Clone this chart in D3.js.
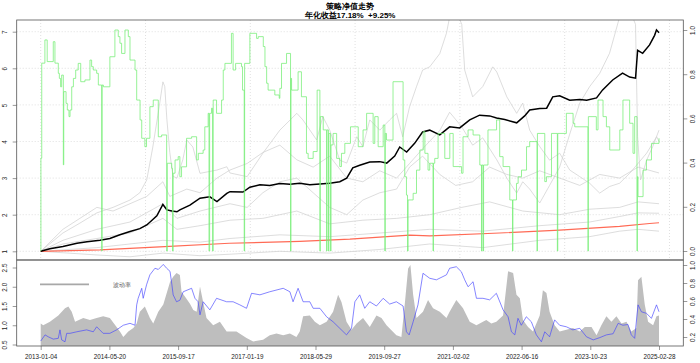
<!DOCTYPE html>
<html>
<head>
<meta charset="utf-8">
<script src="https://cdn.jsdelivr.net/npm/d3@7"></script>
<style>
  body { margin: 0; background: #fff; }
  svg { display: block; }
  text { font-family: "Liberation Sans", Arial, sans-serif; }
</style>
</head>
<body>
<svg id="chart" width="700" height="363"></svg>
<script>
// ---- data (trading-day index, value) ----
const title1 = "策略净值走势";
const title2 = "年化收益17.18%  +9.25%";
const nDays = 2950;
const dateTicks = ["2013-01-04", "2014-05-20", "2015-09-17", "2017-01-19", "2018-05-29",
                   "2019-09-27", "2021-02-02", "2022-06-16", "2023-10-23", "2025-02-28"];
const navTicks = [1, 2, 3, 4, 5, 6, 7];
const posTicks = [0, 0.2, 0.4, 0.6, 0.8, 1.0];
const volTicks = [0.5, 1.0, 1.5, 2.0, 2.5];
const areaTicks = [0.2, 0.4, 0.6, 0.8, 1.0];
const gridDays = [0, 500, 1000, 1500, 2000, 2500, 3000];

// strategy net value
const strategyNav = [[0,1.00],[44,1.07],[106,1.13],[173,1.22],[221,1.26],[283,1.30],[330,1.35],[378,1.45],
  [426,1.54],[473,1.62],[506,1.72],[531,1.85],[554,1.97],[583,2.28],[602,2.13],[626,2.10],[650,2.08],
  [664,2.13],[712,2.26],[760,2.45],[807,2.49],[841,2.36],[888,2.58],[903,2.63],[965,2.62],[998,2.75],
  [1046,2.82],[1093,2.80],[1141,2.85],[1189,2.83],[1236,2.86],[1284,2.82],[1332,2.84],[1379,2.86],
  [1427,2.90],[1460,3.00],[1489,3.28],[1522,3.35],[1570,3.44],[1618,3.45],[1651,3.41],[1689,3.60],
  [1713,3.85],[1746,3.71],[1784,3.95],[1822,4.26],[1856,4.31],[1904,4.18],[1951,4.40],[1999,4.37],
  [2047,4.59],[2094,4.72],[2142,4.70],[2175,4.64],[2214,4.60],[2271,4.51],[2309,4.70],[2333,4.86],
  [2381,4.90],[2414,4.91],[2443,5.22],[2476,5.25],[2524,5.13],[2572,5.15],[2605,5.13],[2652,5.19],
  [2681,5.41],[2729,5.68],[2776,5.87],[2810,5.76],[2838,5.73],[2848,6.49],[2872,6.41],[2905,6.64],
  [2929,6.90],[2938,7.05],[2950,6.97]];

// benchmark
const benchNav = [[0,1.00],[283,1.04],[568,1.12],[900,1.22],[1236,1.27],[1475,1.33],[1760,1.44],
  [1856,1.42],[2190,1.50],[2476,1.58],[2762,1.68],[2905,1.76],[2950,1.78]];

// single stock paths
const stockA = [[0,1.0],[106,1.5],[187,1.77],[268,2.05],[345,2.2],[426,2.4],[473,2.6],[506,2.95],
  [535,3.85],[568,5.05],[583,5.63],[592,5.5],[602,4.6],[616,3.7],[631,3.05],[650,3.0],[678,3.5],
  [697,4.04],[726,3.85],[760,3.13],[841,3.22],[888,3.31],[903,3.14],[985,3.04],[1060,3.68],
  [1141,4.31],[1222,4.77],[1251,4.59],[1317,4.04],[1346,4.68],[1379,4.31],[1427,3.49],[1460,3.41],
  [1508,4.13],[1537,3.86],[1570,4.59],[1618,4.31],[1665,4.59],[1698,4.77],[1727,4.13],[1760,4.95],
  [1793,5.5],[1822,5.95],[1856,6.04],[1904,6.4],[1936,6.96],[1951,7.4],[1980,7.6],[2009,7.2],
  [2023,5.95],[2061,5.22],[2109,5.5],[2157,6.04],[2176,5.9],[2224,5.22],[2271,4.77],[2300,5.05],
  [2333,4.31],[2381,3.86],[2428,3.49],[2476,3.68],[2524,3.22],[2572,3.04],[2619,2.86],[2667,2.59],
  [2714,2.77],[2762,2.86],[2810,3.13],[2891,3.68],[2939,4.13],[2950,4.0]];
const stockB = [[0,1.0],[106,1.6],[187,1.9],[268,2.2],[345,2.1],[426,2.3],[506,2.5],[583,2.9],
  [616,2.5],[697,2.7],[760,2.6],[841,3.0],[903,3.22],[985,3.4],[1060,3.7],[1141,3.9],[1222,3.5],
  [1300,3.3],[1379,3.6],[1460,3.0],[1537,2.9],[1618,3.2],[1698,3.0],[1760,3.4],[1822,3.8],
  [1904,4.3],[1951,4.8],[2009,4.4],[2061,3.9],[2109,4.1],[2176,3.5],[2224,3.0],[2271,2.59],
  [2300,2.9],[2333,2.7],[2381,2.32],[2428,2.8],[2476,3.3],[2524,4.2],[2572,5.05],[2619,5.5],
  [2667,5.86],[2714,6.41],[2762,7.4],[2810,7.6],[2838,7.2],[2848,4.13],[2862,2.95],[2891,3.49],
  [2920,3.86],[2950,4.31]];
const stockC = [[0,1.0],[106,1.3],[268,1.6],[426,1.8],[583,2.3],[650,1.9],[760,2.1],[903,2.3],
  [985,2.2],[1060,2.6],[1141,2.9],[1222,3.0],[1300,2.6],[1379,2.2],[1460,2.0],[1537,2.4],
  [1618,2.6],[1698,2.7],[1760,3.3],[1822,3.6],[1904,3.1],[1980,2.8],[2061,2.9],[2142,3.3],
  [2224,3.1],[2300,3.0],[2381,3.2],[2476,3.0],[2572,2.8],[2667,3.1],[2762,3.0],[2850,3.3],[2950,3.14]];
const stockD = [[0,1.0],[106,1.2],[268,1.35],[426,1.5],[583,1.9],[650,1.6],[760,1.7],[903,1.85],
  [1060,1.9],[1222,2.1],[1379,1.75],[1537,1.85],[1698,1.9],[1856,2.0],[2009,2.2],[2142,2.35],
  [2300,2.1],[2476,2.0],[2619,2.15],[2762,2.2],[2850,2.35],[2950,2.3]];
const stockE = [[0,1.0],[268,1.1],[583,1.3],[760,1.25],[903,1.35],[1141,1.45],[1379,1.4],[1618,1.5],
  [1856,1.6],[2109,1.55],[2381,1.7],[2619,1.8],[2762,1.95],[2850,2.05],[2950,2.04]];
const stockF = [[0,1.0],[268,0.9],[426,0.85],[583,0.95],[760,0.88],[903,0.92],[1141,1.0],[1379,0.95],
  [1618,1.05],[1856,1.2],[2109,1.1],[2381,1.3],[2619,1.4],[2762,1.55],[2850,1.6],[2950,1.55]];

// position ratio (right axis)
const position = [[0,0],[1,0.42],[5,0.85],[20,0.955],[31,0.857],[60,0.947],[68,0.85],[84,0.804],
  [89,0.781],[95,0.743],[100,0.796],[108,0.39],[110,0.721],[121,0.668],[127,0.638],[135,0.608],
  [140,0.638],[148,0.743],[156,0.781],[167,0.819],[179,0.849],[191,0.766],[211,0.774],[235,0.864],
  [243,0.834],[251,0.819],[267,0.804],[275,0.751],[291,0],[293,0.751],[299,0.743],[330,0.879],
  [354,1.0],[370,0.97],[378,0.94],[386,0.894],[402,1.0],[418,0.97],[426,0.864],[450,0.819],
  [458,0.683],[474,0.593],[482,0.51],[497,0.472],[505,0.51],[521,0.653],[537,0.683],[561,0.517],
  [577,0.525],[601,0],[604,0.397],[625,0.374],[629,0],[632,0.352],[641,0.412],[656,0.427],
  [664,0.336],[672,0.381],[696,0.51],[720,0.517],[744,0.412],[752,0.442],[775,0.457],[783,0.562],
  [799,0.623],[803,0],[806,0.623],[815,0.646],[820,0],[823,0.683],[839,0.623],[863,0.683],
  [871,0.819],[879,0.849],[910,0.985],[918,0.819],[930,0.849],[958,0.834],[963,0.728],[971,0],
  [973,0.849],[998,0.985],[1030,0.962],[1038,0.97],[1062,0.925],[1070,0.834],[1078,0.759],
  [1085,0.728],[1117,0.706],[1138,0.691],[1141,0.736],[1149,0.849],[1173,0.894],[1192,0],
  [1194,0.781],[1197,0.728],[1228,0.811],[1244,0.698],[1268,0.442],[1276,0.419],[1300,0.45],
  [1319,0.728],[1332,0],[1334,0.608],[1348,0.548],[1364,0],[1366,0.548],[1373,0],[1375,0.532],
  [1383,0],[1385,0.48],[1395,0.532],[1412,0.419],[1427,0.382],[1435,0.442],[1451,0.487],
  [1478,0.562],[1515,0.472],[1538,0.548],[1555,0.623],[1586,0.487],[1594,0.608],[1610,0.472],
  [1634,0.57],[1642,0],[1644,0.532],[1650,0.502],[1681,0.766],[1729,0.412],[1737,0.336],
  [1745,0.253],[1750,0],[1753,0.231],[1777,0.261],[1793,0.366],[1809,0.457],[1825,0.54],
  [1833,0.442],[1848,0.366],[1856,0.397],[1872,0],[1874,0.397],[1880,0.419],[1896,0.532],
  [1928,0.419],[1952,0.532],[1968,0.382],[2008,0.352],[2015,0.517],[2039,0.548],[2063,0.525],
  [2095,0.389],[2103,0],[2105,0.389],[2111,0],[2113,0.389],[2134,0.548],[2175,0.593],[2190,0.427],
  [2206,0.382],[2238,0.231],[2251,0],[2253,0.231],[2270,0.306],[2278,0.336],[2294,0.366],
  [2318,0.472],[2333,0.495],[2368,0],[2370,0.532],[2405,0.314],[2413,0.336],[2437,0.532],
  [2465,0],[2467,0.532],[2508,0.623],[2540,0.578],[2548,0.562],[2611,0],[2613,0.608],[2651,0.548],
  [2659,0.683],[2683,0.608],[2699,0.562],[2715,0.457],[2763,0.548],[2778,0.683],[2810,0.578],
  [2826,0.442],[2834,0.608],[2845,0],[2847,0.336],[2850,0.246],[2874,0.366],[2890,0.412],
  [2914,0.487],[2950,0.51]];

// rolling volatility (left axis, blue) and shaded series (right axis)
const volLine = [[0,0.59],[21,0.75],[36,0.70],[60,0.64],[84,0.66],[92,0.88],[100,0.62],[116,0.57],
  [124,0.79],[140,0.79],[172,0.83],[219,0.88],[251,0.83],[267,0.96],[298,0.79],[330,0.79],[362,0.88],
  [394,1.0],[426,1.05],[450,1.0],[458,1.53],[465,1.70],[482,1.96],[489,1.70],[505,2.05],[521,2.31],
  [545,2.48],[561,2.45],[585,2.58],[601,2.48],[617,2.40],[626,2.05],[632,1.79],[648,1.61],[664,1.65],
  [680,1.87],[720,1.96],[736,1.70],[751,1.61],[760,1.27],[775,1.61],[807,1.40],[839,1.70],[887,1.61],
  [918,1.61],[950,1.53],[982,1.44],[1006,1.83],[1046,1.79],[1093,1.87],[1157,1.96],[1189,1.87],
  [1204,1.61],[1228,1.96],[1252,1.61],[1284,1.61],[1300,1.44],[1332,1.44],[1364,1.22],[1395,1.09],
  [1427,0.92],[1459,0.75],[1483,0.92],[1499,1.61],[1522,1.79],[1546,1.44],[1570,1.61],[1602,1.50],
  [1634,1.70],[1665,1.55],[1697,1.61],[1729,1.50],[1745,0.83],[1758,0.75],[1777,1.09],[1800,1.53],
  [1824,2.35],[1856,2.22],[1888,2.18],[1936,2.31],[1951,2.48],[1983,2.52],[2007,2.39],[2023,2.18],
  [2039,2.0],[2063,2.13],[2079,1.70],[2110,1.70],[2142,1.66],[2174,1.83],[2206,1.40],[2230,1.22],
  [2246,0.83],[2262,0.75],[2277,1.18],[2293,1.0],[2317,1.22],[2341,1.09],[2365,0.75],[2389,0.57],
  [2405,0.83],[2428,0.70],[2452,1.14],[2476,1.0],[2508,0.96],[2539,0.88],[2572,0.92],[2604,0.70],
  [2636,0.62],[2668,0.68],[2699,0.75],[2731,0.78],[2755,1.05],[2778,1.0],[2802,1.02],[2818,0.75],
  [2834,0.66],[2850,1.53],[2866,1.35],[2890,1.31],[2914,1.18],[2938,1.53],[2950,1.35]];
const volArea = [[0,0.35],[12,0.33],[44,0.37],[84,0.44],[116,0.52],[132,0.54],[148,0.48],[164,0.37],
  [203,0.41],[235,0.39],[267,0.41],[298,0.43],[330,0.41],[362,0.31],[378,0.26],[394,0.20],[418,0.26],
  [442,0.30],[458,0.35],[473,0.48],[497,0.54],[521,0.41],[537,0.35],[561,0.48],[585,0.56],[617,0.81],
  [632,0.87],[648,0.91],[664,0.89],[672,0.70],[688,0.65],[712,0.57],[728,0.50],[744,0.48],[760,0.76],
  [775,0.59],[791,0.41],[823,0.33],[855,0.37],[887,0.26],[934,0.26],[982,0.19],[1014,0.15],
  [1061,0.17],[1093,0.22],[1125,0.24],[1157,0.22],[1189,0.24],[1220,0.20],[1236,0.26],[1252,0.43],
  [1284,0.44],[1308,0.37],[1332,0.33],[1364,0.37],[1395,0.48],[1419,0.67],[1435,0.59],[1459,0.37],
  [1483,0.28],[1507,0.35],[1538,0.41],[1570,0.31],[1602,0.44],[1626,0.41],[1650,0.33],[1697,0.22],
  [1721,0.20],[1738,0.59],[1753,0.96],[1764,1.0],[1777,0.67],[1793,0.41],[1824,0.48],[1848,0.61],
  [1872,0.52],[1904,0.48],[1936,0.41],[1951,0.48],[1983,0.61],[2015,0.52],[2047,0.37],[2079,0.33],
  [2110,0.37],[2126,0.39],[2150,0.35],[2174,0.37],[2206,0.44],[2230,0.93],[2254,0.91],[2270,0.67],
  [2286,0.63],[2301,0.39],[2325,0.31],[2349,0.26],[2381,0.44],[2396,0.72],[2413,0.69],[2428,0.48],
  [2452,0.33],[2476,0.26],[2508,0.28],[2539,0.30],[2572,0.26],[2596,0.31],[2628,0.31],[2652,0.22],
  [2675,0.33],[2699,0.43],[2723,0.37],[2747,0.43],[2771,0.35],[2795,0.37],[2818,0.26],[2842,0.30],
  [2850,0.83],[2866,0.87],[2882,0.56],[2898,0.37],[2922,0.33],[2938,0.43],[2950,0.44]];
const legendLabel = "波动率";

// ---- layout ----
const svg = d3.select("#chart");
const L = 16.7, R = 683.3, T = 20, M = 260, B = 346;

const x = d3.scaleLinear().domain([0, nDays]).range([40.7, 659]);
const yNav = d3.scaleLinear().domain([1, 7]).range([251.3, 31.7]);
const yPos = d3.scaleLinear().domain([0, 1]).range([251, 30]);
const yVol = d3.scaleLinear().domain([0.5, 2.5]).range([344.5, 267.5]);
const yArea = d3.scaleLinear().domain([0.2, 1.0]).range([337, 265]);

const defs = svg.append("defs");
defs.append("clipPath").attr("id", "clipTop")
  .append("rect").attr("x", L).attr("y", T).attr("width", R - L).attr("height", M - T);
defs.append("clipPath").attr("id", "clipBot")
  .append("rect").attr("x", L).attr("y", M).attr("width", R - L).attr("height", B - M);

// titles
svg.append("text").attr("x", 350).attr("y", 9).attr("text-anchor", "middle")
  .attr("font-size", 8).attr("font-weight", "bold").text(title1);
svg.append("text").attr("x", 350).attr("y", 18).attr("text-anchor", "middle")
  .style("white-space", "pre")
  .attr("font-size", 8).attr("font-weight", "bold").text(title2);

// ---- top panel ----
const topG = svg.append("g");
const grid = topG.append("g").attr("stroke", "#d3d3d3").attr("stroke-width", 0.7)
  .attr("stroke-dasharray", "1,2");
grid.selectAll("line.h").data(navTicks).join("line").attr("class", "h")
  .attr("x1", L).attr("x2", R).attr("y1", d => yNav(d)).attr("y2", d => yNav(d));
grid.selectAll("line.v").data(gridDays).join("line").attr("class", "v")
  .attr("x1", d => x(d)).attr("x2", d => x(d)).attr("y1", T).attr("y2", M);

const navLine = d3.line().x(d => x(d[0])).y(d => yNav(d[1]));
const plotTop = topG.append("g").attr("clip-path", "url(#clipTop)");
plotTop.selectAll("path.stock").data([stockA, stockB, stockC, stockD, stockE, stockF]).join("path")
  .attr("class", "stock").attr("d", navLine)
  .attr("fill", "none").attr("stroke", "#cfcfcf").attr("stroke-width", 0.7);
plotTop.append("path").datum(benchNav).attr("d", navLine)
  .attr("fill", "none").attr("stroke", "#ff6a55").attr("stroke-width", 1.2);
plotTop.append("path").datum(strategyNav).attr("d", navLine)
  .attr("fill", "none").attr("stroke", "#000").attr("stroke-width", 1.5);
plotTop.append("path").datum(position)
  .attr("d", d3.line().curve(d3.curveStepAfter).x(d => x(d[0])).y(d => yPos(d[1])))
  .attr("fill", "none").attr("stroke", "#74ee74").attr("stroke-width", 0.75);

topG.append("rect").attr("x", L).attr("y", T).attr("width", R - L).attr("height", M - T)
  .attr("fill", "none").attr("stroke", "#555").attr("stroke-width", 0.8);

function styleAxis(g, shift) {
  g.select(".domain").remove();
  g.selectAll(".tick line").attr("stroke", "#555").attr("stroke-width", 0.6);
  g.selectAll(".tick text").attr("x", null).attr("dy", null)
    .attr("transform", `translate(${shift},0) rotate(-90)`)
    .attr("text-anchor", "middle").attr("font-size", 6.3).attr("fill", "#222");
}
topG.append("g").attr("transform", `translate(${L},0)`)
  .call(d3.axisLeft(yNav).tickValues(navTicks).tickFormat(d3.format("d")).tickSize(4))
  .call(g => styleAxis(g, -9.5));
topG.append("g").attr("transform", `translate(${R},0)`)
  .call(d3.axisRight(yPos).tickValues(posTicks).tickFormat(d3.format(".1f")).tickSize(4))
  .call(g => styleAxis(g, 12));

// ---- bottom panel ----
const botG = svg.append("g");
const plotBot = botG.append("g").attr("clip-path", "url(#clipBot)");
const areaPts = [[0, 0]].concat(volArea, [[nDays, 0]]);
plotBot.append("path").datum(areaPts)
  .attr("d", d3.line().x(d => x(d[0])).y(d => yArea(d[1])))
  .attr("fill", "#bebebe").attr("stroke", "none");
plotBot.append("path").datum(volLine)
  .attr("d", d3.line().x(d => x(d[0])).y(d => yVol(d[1])))
  .attr("fill", "none").attr("stroke", "#4444ff").attr("stroke-width", 0.65);

botG.append("rect").attr("x", L).attr("y", M).attr("width", R - L).attr("height", B - M)
  .attr("fill", "none").attr("stroke", "#555").attr("stroke-width", 0.8);

// legend
botG.append("line").attr("x1", 40).attr("x2", 89).attr("y1", 284.3).attr("y2", 284.3)
  .attr("stroke", "#a8a8a8").attr("stroke-width", 1.8);
botG.append("text").attr("x", 113).attr("y", 287).attr("font-size", 5.8).attr("fill", "#555")
  .text(legendLabel);

botG.append("g").attr("transform", `translate(${L},0)`)
  .call(d3.axisLeft(yVol).tickValues(volTicks).tickFormat(d3.format(".1f")).tickSize(4))
  .call(g => styleAxis(g, -9.5));
botG.append("g").attr("transform", `translate(${R},0)`)
  .call(d3.axisRight(yArea).tickValues(areaTicks).tickFormat(d3.format(".1f")).tickSize(4))
  .call(g => styleAxis(g, 12));

const tickDays = dateTicks.map((d, i) => i * nDays / (dateTicks.length - 1));
const xAxis = botG.append("g").attr("transform", `translate(0,${B})`)
  .call(d3.axisBottom(x).tickValues(tickDays).tickFormat((d, i) => dateTicks[i]).tickSize(4));
xAxis.select(".domain").remove();
xAxis.selectAll(".tick line").attr("stroke", "#555").attr("stroke-width", 0.6);
xAxis.selectAll(".tick text").attr("font-size", 6.3).attr("fill", "#222").attr("dy", "0.9em");
</script>
</body>
</html>
